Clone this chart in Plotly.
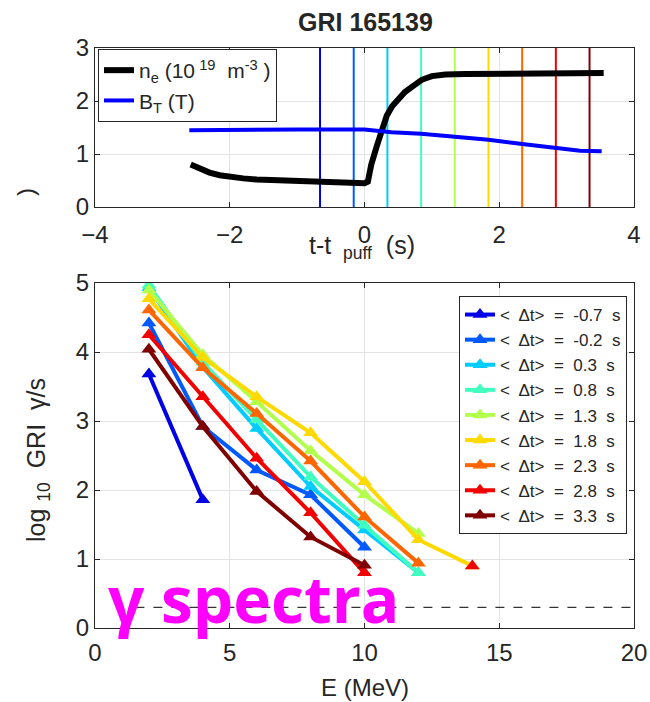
import plotly.graph_objects as go

W, H = 650, 702
FONT = "Liberation Sans, Arial, sans-serif"

# ---------------- top panel data ----------------
t_ne = [-2.58, -2.45, -2.3, -2.15, -2.0, -1.8, -1.6, -1.4, -1.2, -1.0, -0.8, -0.6,
        -0.4, -0.2, 0.0, 0.05, 0.1, 0.18, 0.25, 0.33, 0.41, 0.49, 0.6, 0.73, 0.85,
        1.0, 1.2, 1.5, 2.0, 2.5, 3.0, 3.3, 3.55]
ne = [0.80, 0.72, 0.65, 0.60, 0.57, 0.54, 0.52, 0.51, 0.50, 0.49, 0.48, 0.47,
      0.46, 0.46, 0.45, 0.48, 0.80, 1.14, 1.45, 1.72, 1.90, 2.03, 2.17, 2.29, 2.40,
      2.47, 2.50, 2.51, 2.51, 2.52, 2.53, 2.53, 2.53]
t_bt = [-2.6, -2.0, -1.0, 0.0, 0.15, 0.4, 0.84, 1.35, 1.84, 2.34, 2.84, 3.2, 3.52]
bt = [1.45, 1.46, 1.46, 1.46, 1.44, 1.41, 1.38, 1.33, 1.27, 1.19, 1.11, 1.06, 1.05]
t_marks = [-0.66, -0.16, 0.34, 0.84, 1.34, 1.84, 2.34, 2.84, 3.34]

# ---------------- lower panel data ----------------
energy = [2, 4, 6, 8, 10, 12, 14]
labels = ["-0.7", "-0.2", "0.3", "0.8", "1.3", "1.8", "2.3", "2.8", "3.3"]
s1 = [3.68, 1.86]
s2 = [4.42, 2.92, 2.29, 1.93, 1.17]
s3 = [4.93, 3.78, 2.89, 2.05, 1.42, 0.80]
s4 = [4.97, 3.85, 3.02, 2.19, 1.49, 0.80]
s5 = [4.90, 3.96, 3.28, 2.57, 1.93, 1.37]
s6 = [4.77, 3.92, 3.35, 2.83, 2.12, 1.28, 0.90]
s7 = [4.61, 3.77, 3.11, 2.42, 1.61, 0.94]
s8 = [4.25, 3.35, 2.46, 1.67, 0.80, None, 0.90]
s9 = [4.04, 2.92, 1.98, 1.32, 0.91]
series = [s1, s2, s3, s4, s5, s6, s7, s8, s9]
colors = ["rgb(0,0,230)", "rgb(0,89,255)", "rgb(0,204,255)", "rgb(64,255,191)",
          "rgb(179,255,77)", "rgb(255,217,0)", "rgb(255,102,0)", "rgb(242,0,0)",
          "rgb(128,0,0)"]
threshold = 0.3
thr_x = [1.5, 20]


def px_x(x):
    return x / W


def px_y(y):
    return 1 - y / H


fig = go.Figure()

# vertical time markers
for t, c in zip(t_marks, colors):
    fig.add_trace(go.Scatter(x=[t, t], y=[0, 3], mode="lines",
                             line=dict(color=c, width=2), showlegend=False,
                             xaxis="x", yaxis="y", hoverinfo="skip"))

fig.add_trace(go.Scatter(x=t_ne, y=ne, mode="lines", line=dict(color="black", width=6),
                         name="n<sub>e</sub> (10<sup> 19</sup>  m<sup>-3</sup> )",
                         xaxis="x", yaxis="y", legend="legend"))
fig.add_trace(go.Scatter(x=t_bt, y=bt, mode="lines", line=dict(color="rgb(0,0,255)", width=4),
                         name="B<sub>T</sub> (T)", xaxis="x", yaxis="y", legend="legend"))

# threshold dashed line
fig.add_trace(go.Scatter(x=thr_x, y=[threshold, threshold], mode="lines",
                         line=dict(color="black", width=1, dash="dash"),
                         showlegend=False, xaxis="x2", yaxis="y2"))

for s, lab, c in zip(series, labels, colors):
    fig.add_trace(go.Scatter(x=energy[:len(s)], y=s, mode="lines+markers",
                             line=dict(color=c, width=4),
                             marker=dict(symbol="triangle-up", size=13, color=c),
                             connectgaps=False,
                             name="<  \u0394t>  =  " + lab + "  s",
                             xaxis="x2", yaxis="y2", legend="legend2"))

axis_common = dict(showline=True, linecolor="#262626", linewidth=1, mirror="ticks",
                   ticks="inside", ticklen=5, tickcolor="#262626", automargin=False,
                   showgrid=True, gridcolor="#E3E3E3", gridwidth=1, zeroline=False,
                   tickfont=dict(family=FONT, size=24, color="#262626"))

fig.update_layout(
    width=W, height=H, margin=dict(l=0, r=0, t=0, b=0, autoexpand=False),
    paper_bgcolor="white", plot_bgcolor="white",
    font=dict(family=FONT, color="#262626"),
    xaxis=dict(domain=[px_x(95), px_x(634)], range=[-4, 4], tickvals=[-4, -2, 0, 2, 4],
               anchor="y", ticklabelstandoff=6, **axis_common),
    yaxis=dict(domain=[px_y(207), px_y(48)], range=[0, 3], tickvals=[0, 1, 2, 3],
               anchor="x", **axis_common),
    xaxis2=dict(domain=[px_x(95), px_x(634)], range=[0, 20], tickvals=[0, 5, 10, 15, 20],
                anchor="y2", ticklabelstandoff=3, **axis_common),
    yaxis2=dict(domain=[px_y(628), px_y(283)], range=[0, 5], tickvals=[0, 1, 2, 3, 4, 5],
                anchor="x2", **axis_common),
    legend=dict(x=px_x(98), y=px_y(49), xanchor="left", yanchor="top",
                bgcolor="white", bordercolor="#262626", borderwidth=1,
                font=dict(family=FONT, size=21, color="#262626"), itemwidth=30),
    legend2=dict(x=px_x(459), y=px_y(296), xanchor="left", yanchor="top",
                 bgcolor="white", bordercolor="#262626", borderwidth=1,
                 font=dict(family=FONT, size=17, color="#262626"), itemwidth=30),
    showlegend=True,
)

annotations = [
    dict(text="<b>GRI 165139</b>", x=px_x(365), y=px_y(22), font=dict(size=25, color="#262626")),
    dict(text="t-t <sub> puff</sub>  (s)", x=px_x(362), y=px_y(247), font=dict(size=25, color="#262626")),
    dict(text="E (MeV)", x=px_x(365), y=px_y(687), font=dict(size=24, color="#262626")),
    dict(text="log <sub>10</sub>  GRI  \u03b3/s", x=px_x(38), y=px_y(460), textangle=-90,
         font=dict(size=25, color="#262626")),
    dict(text=")", x=px_x(25), y=px_y(192), textangle=-90, font=dict(size=24, color="#262626")),
    dict(text="<b>\u03b3 spectra</b>", x=px_x(254), y=px_y(598),
         font=dict(family="Open Sans, sans-serif", size=64, color="#FF00FF")),
]
for a in annotations:
    a.update(xref="paper", yref="paper", showarrow=False, xanchor="center", yanchor="middle")
fig.update_layout(annotations=annotations)

fig.write_html("out.html")
